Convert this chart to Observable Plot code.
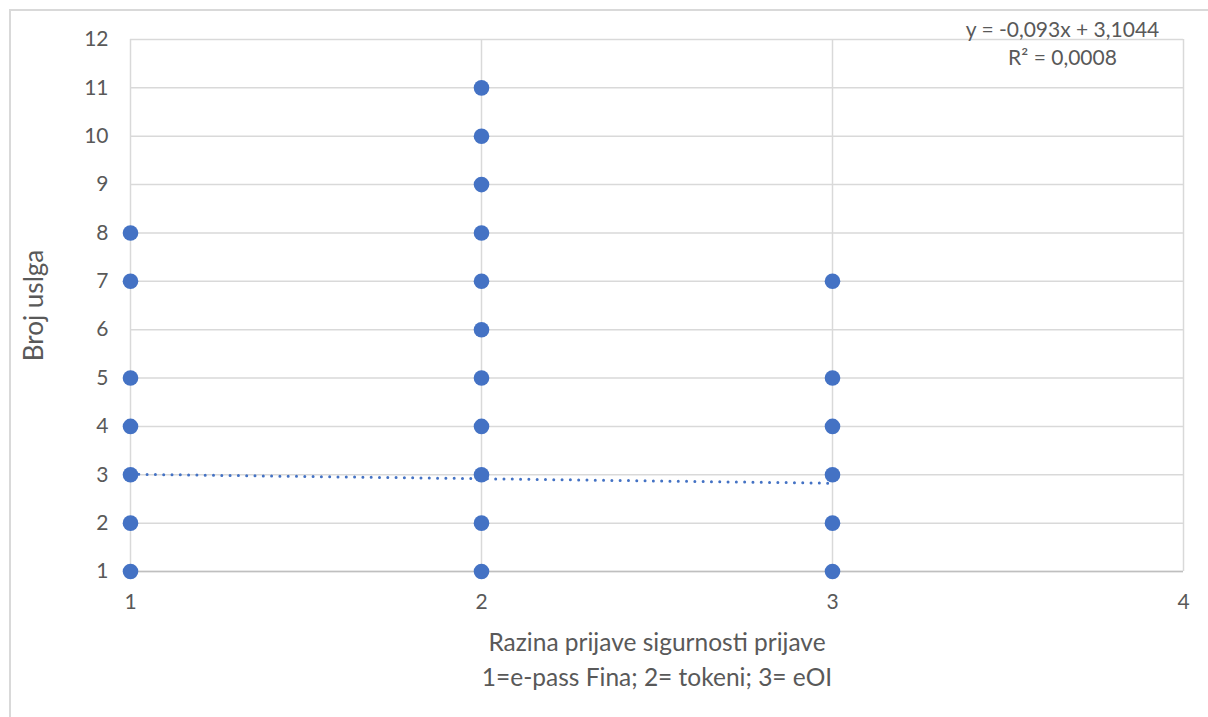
<!DOCTYPE html>
<html>
<head>
<meta charset="utf-8">
<script src="https://cdn.jsdelivr.net/npm/d3@7"></script>
<script src="https://cdn.jsdelivr.net/npm/@observablehq/plot@0.6"></script>
<style>
  html, body { margin: 0; padding: 0; background: #fff; overflow: hidden; }
  #wrap { position: relative; width: 1208px; height: 717px; }
  #border { position: absolute; left: 9px; top: 9px; width: 1400px; height: 900px; border: 2px solid #d9d9d9; box-sizing: border-box; }
  #chart { position: absolute; left: 0; top: 0; }
  svg text { font-family: Lato, "Open Sans", sans-serif; }
</style>
</head>
<body>
<div id="wrap"><div id="border"></div><div id="chart"></div></div>
<script>
// Categories (x) and the observed "Broj uslga" values at each category
const categories = [1, 2, 3];
const valuesCat1 = [1, 2, 3, 4, 5, 7, 8];
const valuesCat2 = [1, 2, 3, 4, 5, 6, 7, 8, 9, 10, 11];
const valuesCat3 = [1, 2, 3, 4, 5, 7];
const xTicks = [1, 2, 3, 4];
const yTicks = [1, 2, 3, 4, 5, 6, 7, 8, 9, 10, 11, 12];
// Linear trendline reported on the chart
const trendSlope = -0.093;
const trendIntercept = 3.1044;
const trendLabel = ["y = -0,093x + 3,1044", "R² = 0,0008"];
const xLabel = ["Razina prijave sigurnosti prijave", "1=e-pass Fina; 2= tokeni; 3= eOI"];
const yLabel = "Broj uslga";

const series = [valuesCat1, valuesCat2, valuesCat3];
const points = categories.flatMap((c, i) => series[i].map(v => ({x: c, y: v})));
const xExtent = d3.extent(categories);
const trend = xExtent.map(x => ({x, y: trendSlope * x + trendIntercept}));

const blue = "#4472C4";
const grid = "#d9d9d9";
const textColor = "#595959";

const chart = Plot.plot({
  width: 1208,
  height: 717,
  marginLeft: 130,
  marginRight: 25,
  marginTop: 39,
  marginBottom: 146,
  style: {background: "transparent", fontFamily: "Lato, 'Open Sans', sans-serif"},
  x: {domain: [1, 4], ticks: xTicks},
  y: {domain: [1, 12], ticks: yTicks},
  marks: [
    Plot.gridX(xTicks, {stroke: grid, strokeOpacity: 1, strokeWidth: 1.5}),
    Plot.gridY(yTicks, {stroke: grid, strokeOpacity: 1, strokeWidth: 1.5}),
    Plot.ruleY([1], {stroke: "#bfbfbf", strokeWidth: 1.5}),
    Plot.axisX(xTicks, {tickSize: 0, tickPadding: 23, fontSize: 21, fill: textColor, label: null, tickFormat: d => String(d)}),
    Plot.axisY(yTicks, {tickSize: 0, tickPadding: 22, fontSize: 21, fill: textColor, label: null, tickFormat: d => String(d)}),
    Plot.line(trend, {x: "x", y: "y", stroke: blue, strokeWidth: 3, strokeLinecap: "round", strokeDasharray: "0,8.3"}),
    Plot.dot(points, {x: "x", y: "y", r: 7.8, fill: blue, stroke: null}),
    Plot.text([xLabel.join("\n")], {frameAnchor: "bottom", dy: 86, text: d => d, fontSize: 24.5, fill: textColor, lineHeight: 1.42, lineAnchor: "middle"}),
    Plot.text([yLabel], {frameAnchor: "left", dx: -96, rotate: -90, text: d => d, textAnchor: "middle", lineAnchor: "middle", fontSize: 26, fill: textColor}),
    Plot.text([trendLabel.join("\n")], {frameAnchor: "top-right", dx: -121, dy: 3, text: d => d, textAnchor: "middle", fontSize: 21, fill: textColor, lineHeight: 1.33, lineAnchor: "middle"})
  ]
});
document.getElementById("chart").appendChild(chart);
</script>
</body>
</html>
